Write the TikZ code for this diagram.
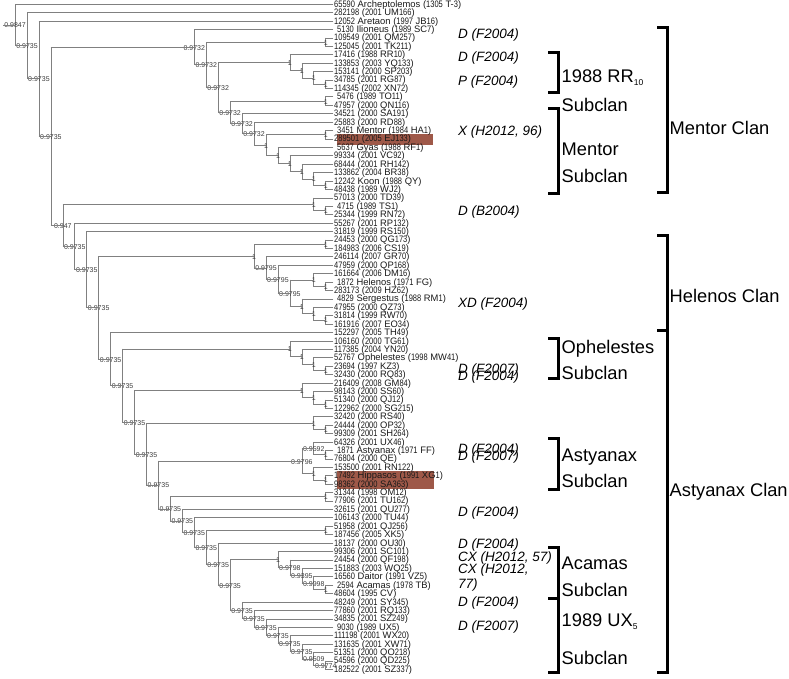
\documentclass[tikz,border=0pt]{standalone}
\usepackage{fontspec}
\setmainfont{Liberation Sans}
\newfontfamily\leafdig[FakeStretch=0.8]{Liberation Sans}
\usetikzlibrary{calc}
\definecolor{linegray}{RGB}{128,128,128}
\definecolor{labgray}{RGB}{60,60,60}
\definecolor{leafblack}{RGB}{25,25,25}
\definecolor{hlcol}{RGB}{158,88,72}
\newXeTeXintercharclass\DigClass
\XeTeXcharclass`\0=\DigClass
\XeTeXcharclass`\1=\DigClass
\XeTeXcharclass`\2=\DigClass
\XeTeXcharclass`\3=\DigClass
\XeTeXcharclass`\4=\DigClass
\XeTeXcharclass`\5=\DigClass
\XeTeXcharclass`\6=\DigClass
\XeTeXcharclass`\7=\DigClass
\XeTeXcharclass`\8=\DigClass
\XeTeXcharclass`\9=\DigClass
\XeTeXinterchartoks 0 \DigClass = {\leafdig}
\XeTeXinterchartoks 4095 \DigClass = {\leafdig}
\XeTeXinterchartoks \DigClass 0 = {\rmfamily}
\XeTeXinterchartoks \DigClass 4095 = {\rmfamily}
\newcommand\leaffont{\fontsize{9.4}{10}\selectfont\XeTeXinterchartokenstate=1\relax}
\newcommand\inode[5]{%
  \path let \p1=(#3), \p2=(#4) in ({(337.7-11.95*#2)*1pt},{(\y1+\y2)/2}) coordinate (#1);
  \draw[br] (#1 |- #3) -- (#1 |- #4);
  \draw[br] (#1 |- #3) -- (#3);
  \draw[br] (#1 |- #4) -- (#4);
  \node[nl] (#1t) at (#1) {#5};
}
\begin{document}
\begin{tikzpicture}[x=1pt,y=-1pt,
  br/.style={draw=linegray, line width=0.7pt, line cap=rect},
  nl/.style={font=\fontsize{7}{7.5}\selectfont, text=labgray, inner sep=0pt, yshift=-0.6pt},
  lt/.style={font=\leaffont, text=leafblack, inner sep=0pt, anchor=base west},
  ann/.style={font=\fontsize{13.5}{15}\selectfont\itshape, inner sep=0pt, anchor=base west},
  big/.style={font=\fontsize{18.3}{20}\selectfont, inner sep=0pt, anchor=base west},
  brk/.style={line width=3pt, black, line join=miter},
  hl/.style={fill=hlcol}]
\useasboundingbox (0,0) rectangle (789,678);
% highlight boxes
\fill[hl] (337,134) rectangle (433,145);
\fill[hl] (337,471) rectangle (434,489);
% leaves
\foreach \i/\t in {
1/{65590 Archeptolemos (1305 T-3)},
2/{282198 (2001 UM166)},
3/{12052 Aretaon (1997 JB16)},
4/{\hspace*{3pt}5130 Ilioneus (1989 SC7)},
5/{109549 (2001 QM257)},
6/{125045 (2001 TK211)},
7/{17416 (1988 RR10)},
8/{133853 (2003 YQ133)},
9/{153141 (2000 SP203)},
10/{34785 (2001 RG87)},
11/{114345 (2002 XN72)},
12/{\hspace*{3pt}5476 (1989 TO11)},
13/{47957 (2000 QN116)},
14/{34521 (2000 SA191)},
15/{25883 (2000 RD88)},
16/{\hspace*{3pt}3451 Mentor (1984 HA1)},
17/{289501 (2005 EJ133)},
18/{\hspace*{3pt}5637 Gyas (1988 RF1)},
19/{99334 (2001 VC92)},
20/{68444 (2001 RH142)},
21/{133862 (2004 BR38)},
22/{12242 Koon (1988 QY)},
23/{48438 (1989 WJ2)},
24/{57013 (2000 TD39)},
25/{\hspace*{3pt}4715 (1989 TS1)},
26/{25344 (1999 RN72)},
27/{55267 (2001 RP132)},
28/{31819 (1999 RS150)},
29/{24453 (2000 QG173)},
30/{184983 (2006 CS19)},
31/{246114 (2007 GR70)},
32/{47959 (2000 QP168)},
33/{161664 (2006 DM16)},
34/{\hspace*{3pt}1872 Helenos (1971 FG)},
35/{283173 (2009 HZ62)},
36/{\hspace*{3pt}4829 Sergestus (1988 RM1)},
37/{47955 (2000 QZ73)},
38/{31814 (1999 RW70)},
39/{161916 (2007 EO34)},
40/{152297 (2005 TH49)},
41/{106160 (2000 TG61)},
42/{117385 (2004 YN20)},
43/{52767 Ophelestes (1998 MW41)},
44/{23694 (1997 KZ3)},
45/{32430 (2000 RQ83)},
46/{216409 (2008 GM84)},
47/{98143 (2000 SS60)},
48/{51340 (2000 QJ12)},
49/{122962 (2000 SG215)},
50/{32420 (2000 RS40)},
51/{24444 (2000 OP32)},
52/{99309 (2001 SH264)},
53/{64326 (2001 UX46)},
54/{\hspace*{3pt}1871 Astyanax (1971 FF)},
55/{76804 (2000 QE)},
56/{153500 (2001 RN122)},
57/{17492 Hippasos (1991 XG1)},
58/{98362 (2000 SA363)},
59/{31344 (1998 OM12)},
60/{77906 (2001 TU162)},
61/{32615 (2001 QU277)},
62/{106143 (2000 TU44)},
63/{51958 (2001 QJ256)},
64/{187456 (2005 XK5)},
65/{18137 (2000 OU30)},
66/{99306 (2001 SC101)},
67/{24454 (2000 QF198)},
68/{151883 (2003 WQ25)},
69/{16560 Daitor (1991 VZ5)},
70/{\hspace*{3pt}2594 Acamas (1978 TB)},
71/{48604 (1995 CV)},
72/{48249 (2001 SY345)},
73/{77860 (2001 RQ133)},
74/{34835 (2001 SZ249)},
75/{\hspace*{3pt}9030 (1989 UX5)},
76/{111198 (2001 WX20)},
77/{131635 (2001 XW71)},
78/{51351 (2000 QO218)},
79/{54596 (2000 QD225)},
80/{182522 (2001 SZ337)}}{
  \coordinate (l\i) at (333, {4.2+(\i-1)*8.42});
  \node[lt] (t\i) at ([xshift=1pt,yshift=-3pt]l\i) {\t};
}
% internal nodes (bottom-up)
\inode{nN56}{1}{l5}{l6}{1}
\inode{nP4}{1}{l10}{l11}{1}
\inode{nP3}{2}{l9}{nP4}{1}
\inode{nP2}{3}{l8}{nP3}{1}
\inode{nP}{4}{l7}{nP2}{1}
\inode{nN1213}{1}{l12}{l13}{1}
\inode{nN1617}{1}{l16}{l17}{1}
\inode{nZ10}{1}{l22}{l23}{1}
\inode{nZ9}{2}{l21}{nZ10}{1}
\inode{nZ8}{3}{l20}{nZ9}{1}
\inode{nZ7}{4}{l19}{nZ8}{1}
\inode{nZ6}{5}{l18}{nZ7}{1}
\inode{nZ5}{6}{nN1617}{nZ6}{1}
\inode{nZ4}{7}{l15}{nZ5}{0.9732}
\inode{nZ3}{8}{l14}{nZ4}{0.9732}
\inode{nZ2}{9}{nN1213}{nZ3}{0.9732}
\inode{nZ}{10}{nP}{nZ2}{0.9732}
\inode{nY}{11}{nN56}{nZ}{0.9732}
\inode{nX}{12}{l4}{nY}{0.9732}
\inode{nQ2}{1}{l25}{l26}{1}
\inode{nQ1}{2}{l24}{nQ2}{1}
\inode{nH1}{1}{l29}{l30}{1}
\inode{nH5b}{1}{l34}{l35}{1}
\inode{nH5}{2}{l33}{nH5b}{1}
\inode{nH8}{1}{l38}{l39}{1}
\inode{nH7}{2}{l37}{nH8}{1}
\inode{nH6}{3}{l36}{nH7}{1}
\inode{nH4}{4}{nH5}{nH6}{0.9795}
\inode{nH3}{5}{l32}{nH4}{0.9795}
\inode{nH2}{6}{l31}{nH3}{0.9795}
\inode{nH}{7}{nH1}{nH2}{1}
\inode{nK4}{1}{l44}{l45}{1}
\inode{nK3}{2}{l43}{nK4}{1}
\inode{nK2}{3}{l42}{nK3}{1}
\inode{nK}{4}{l41}{nK2}{1}
\inode{nM3}{1}{l48}{l49}{1}
\inode{nM2}{2}{l47}{nM3}{1}
\inode{nM}{3}{l46}{nM2}{1}
\inode{nS2}{1}{l51}{l52}{1}
\inode{nS}{2}{l50}{nS2}{1}
\inode{nT1b}{1}{l54}{l55}{1}
\inode{nT1}{2}{l53}{nT1b}{0.9592}
\inode{nT2b}{1}{l57}{l58}{1}
\inode{nT2}{2}{l56}{nT2b}{1}
\inode{nT}{3}{nT1}{nT2}{0.9796}
\inode{nV}{1}{l59}{l60}{1}
\inode{nV2}{1}{l63}{l64}{1}
\inode{nAC5}{1}{l70}{l71}{1}
\inode{nAC4}{2}{l69}{nAC5}{0.9998}
\inode{nAC3}{3}{l68}{nAC4}{0.9395}
\inode{nAC2}{4}{l67}{nAC3}{0.9798}
\inode{nAC}{5}{l66}{nAC2}{1}
\inode{nW13}{1}{l79}{l80}{0.9774}
\inode{nW12}{2}{l78}{nW13}{0.9509}
\inode{nW11}{3}{l77}{nW12}{0.9735}
\inode{nW10}{4}{l76}{nW11}{0.9735}
\inode{nW9}{5}{l75}{nW10}{0.9735}
\inode{nW8}{6}{l74}{nW9}{0.9735}
\inode{nW7}{7}{l73}{nW8}{0.9735}
\inode{nW6}{8}{l72}{nW7}{0.9735}
\inode{nW5}{9}{nAC}{nW6}{0.9735}
\inode{nW4}{10}{l65}{nW5}{0.9735}
\inode{nW3}{11}{nV2}{nW4}{0.9735}
\inode{nW2}{12}{l62}{nW3}{0.9735}
\inode{nW}{13}{l61}{nW2}{0.9735}
\inode{nU}{14}{nV}{nW}{0.9735}
\inode{nO}{15}{nT}{nU}{0.9735}
\inode{nN}{16}{nS}{nO}{0.9735}
\inode{nL}{17}{nM}{nN}{0.9735}
\inode{nJ}{18}{nK}{nL}{0.9735}
\inode{nI}{19}{l40}{nJ}{0.9735}
\inode{nG}{20}{nH}{nI}{0.9735}
\inode{nF}{21}{l28}{nG}{0.9735}
\inode{nE}{22}{l27}{nF}{0.9735}
\inode{nD}{23}{nQ1}{nE}{0.947}
\inode{nC}{24}{nX}{nD}{0.9735}
\inode{nB}{25}{l3}{nC}{0.9735}
\inode{nA}{26}{l2}{nB}{0.9735}
\inode{nR}{27}{l1}{nA}{0.9847}
\path let \p1=(nR) in (3pt,\y1) coordinate (nR0);
\draw[br] (nR0) -- (nR);
% annotations
\node[ann] (a1) at (458,38) {D (F2004)};
\node[ann] (a2) at (458,61) {D (F2004)};
\node[ann] (a3) at (458,85) {P (F2004)};
\node[ann] (a4) at (458,135) {X (H2012, 96)};
\node[ann] (a5) at (458,215) {D (B2004)};
\node[ann] (a6) at (458,307) {XD (F2004)};
\node[ann] (a7) at (458,373) {D (F2007)};
\node[ann] (a8) at (458,380) {D (F2004)};
\node[ann] (a9) at (458,453) {D (F2004)};
\node[ann] (a10) at (458,460) {D (F2007)};
\node[ann] (a11) at (458,516) {D (F2004)};
\node[ann] (a12) at (458,548) {D (F2004)};
\node[ann] (a13) at (458,561) {CX (H2012, 57)};
\node[ann] (a14) at (458,573) {CX (H2012,};
\node[ann] (a15) at (458,588) {77)};
\node[ann] (a16) at (458,606) {D (F2004)};
\node[ann] (a17) at (458,630) {D (F2007)};
% brackets
\draw[brk] (548,52) -- (558,52) -- (558,92) -- (548,92);
\draw[brk] (548,108) -- (558,108) -- (558,193) -- (548,193);
\draw[brk] (657,27) -- (667,27) -- (667,192) -- (657,192);
\draw[brk] (657,235) -- (667,235) -- (667,330) -- (657,330);
\draw[brk] (657,330) -- (667,330) -- (667,672) -- (657,672);
\draw[brk] (548,338) -- (558,338) -- (558,378) -- (548,378);
\draw[brk] (548,438) -- (558,438) -- (558,489) -- (548,489);
\draw[brk] (548,547) -- (558,547) -- (558,598) -- (548,598);
\draw[brk] (548,598) -- (558,598) -- (558,672) -- (548,672);
% clan / subclan labels
\node[big] (c1) at (561.5,82.5) {1988 RR\raisebox{-3pt}{\fontsize{8.5}{9}\selectfont 10}};
\node[big] (c2) at (561.5,111.5) {Subclan};
\node[big] (c3) at (561.5,155.5) {Mentor};
\node[big] (c4) at (561.5,182.5) {Subclan};
\node[big] (c5) at (669.5,134.5) {Mentor Clan};
\node[big] (c6) at (669.5,302.5) {Helenos Clan};
\node[big] (c7) at (561.5,353.5) {Ophelestes};
\node[big] (c8) at (561.5,379.5) {Subclan};
\node[big] (c9) at (561.5,461.5) {Astyanax};
\node[big] (c10) at (561.5,487.5) {Subclan};
\node[big] (c11) at (669.5,496.5) {Astyanax Clan};
\node[big] (c12) at (561.5,569.5) {Acamas};
\node[big] (c13) at (561.5,596.5) {Subclan};
\node[big] (c14) at (561.5,626.5) {1989 UX\raisebox{-3pt}{\fontsize{8.5}{9}\selectfont 5}};
\node[big] (c15) at (561.5,664.5) {Subclan};
\end{tikzpicture}
\end{document}
